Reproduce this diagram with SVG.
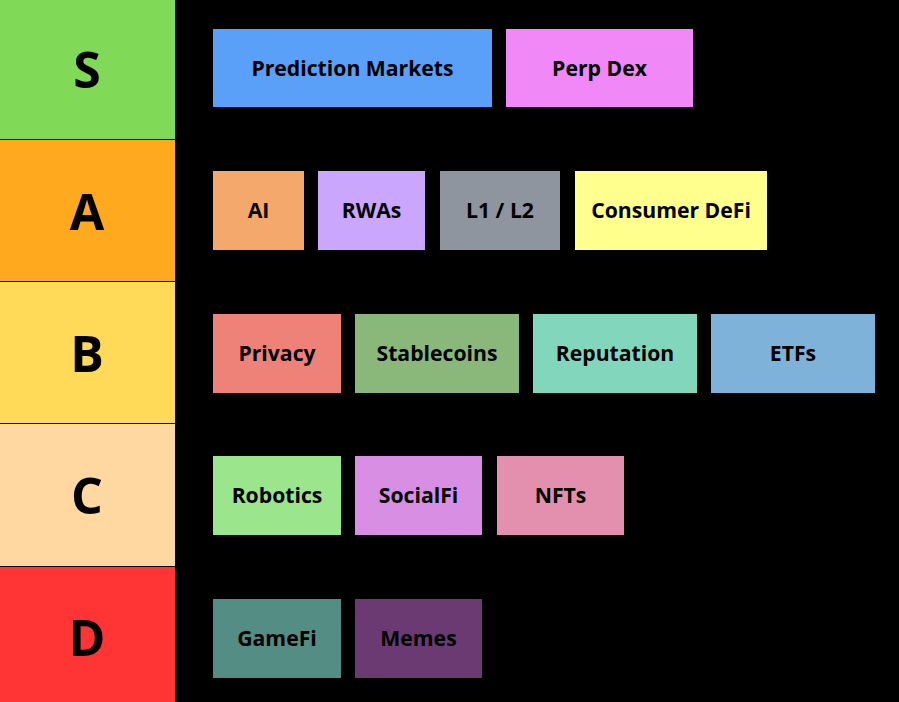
<svg xmlns="http://www.w3.org/2000/svg" width="899" height="702" viewBox="0 0 899 702">
<style>
.t{font-family:"Open Sans","DejaVu Sans",sans-serif;font-weight:bold;font-size:50px;text-anchor:middle;dominant-baseline:central;fill:#000}
.l{font-family:"Open Sans","DejaVu Sans",sans-serif;font-weight:bold;font-size:21.2px;text-anchor:middle;dominant-baseline:central;fill:#000}
</style>
<rect width="899" height="702" fill="#000"/>
<g id="tier-S"><rect x="0" y="0" width="175" height="139" fill="#80DA58"/><text class="t" x="87" y="69">S</text></g>
<g id="tier-A"><rect x="0" y="140" width="175" height="141" fill="#FFA91E"/><text class="t" x="87" y="211">A</text></g>
<g id="tier-B"><rect x="0" y="282" width="175" height="141" fill="#FFDA59"/><text class="t" x="87" y="353">B</text></g>
<g id="tier-C"><rect x="0" y="424" width="175" height="142" fill="#FFD7A0"/><text class="t" x="87" y="495">C</text></g>
<g id="tier-D"><rect x="0" y="567" width="175" height="135" fill="#FF3434"/><text class="t" x="87" y="637">D</text></g>
<g id="pm"><rect x="213" y="29" width="279" height="78" fill="#5AA0F8"/><text class="l" x="352.5" y="67">Prediction Markets</text></g>
<g id="pd"><rect x="506" y="29" width="187" height="78" fill="#F088F8"/><text class="l" x="599.5" y="67">Perp Dex</text></g>
<g id="ai"><rect x="213" y="171" width="91" height="79" fill="#F4A86B"/><text class="l" x="258.5" y="209">AI</text></g>
<g id="rwa"><rect x="318" y="171" width="107" height="79" fill="#CAA6FC"/><text class="l" x="371.5" y="209">RWAs</text></g>
<g id="l1"><rect x="440" y="171" width="120" height="79" fill="#8E959E"/><text class="l" x="500" y="209">L1 / L2</text></g>
<g id="cd"><rect x="575" y="171" width="192" height="79" fill="#FFFF8E"/><text class="l" x="671" y="209">Consumer DeFi</text></g>
<g id="pr"><rect x="213" y="314" width="128" height="79" fill="#EF8278"/><text class="l" x="277" y="352">Privacy</text></g>
<g id="sc"><rect x="355" y="314" width="164" height="79" fill="#89B87A"/><text class="l" x="437" y="352">Stablecoins</text></g>
<g id="rep"><rect x="533" y="314" width="164" height="79" fill="#82D6BC"/><text class="l" x="615" y="352">Reputation</text></g>
<g id="etf"><rect x="711" y="314" width="164" height="79" fill="#7FB2D8"/><text class="l" x="793" y="352">ETFs</text></g>
<g id="rob"><rect x="213" y="456" width="128" height="79" fill="#9BE58C"/><text class="l" x="277" y="494">Robotics</text></g>
<g id="sf"><rect x="355" y="456" width="127" height="79" fill="#D88EE3"/><text class="l" x="418.5" y="494">SocialFi</text></g>
<g id="nft"><rect x="497" y="456" width="127" height="79" fill="#E390AE"/><text class="l" x="560.5" y="494">NFTs</text></g>
<g id="gf"><rect x="213" y="599" width="128" height="79" fill="#548D84"/><text class="l" x="277" y="637">GameFi</text></g>
<g id="mm"><rect x="355" y="599" width="127" height="79" fill="#6B3A73"/><text class="l" x="418.5" y="637">Memes</text></g>
<g id="connectors"/>
</svg>
